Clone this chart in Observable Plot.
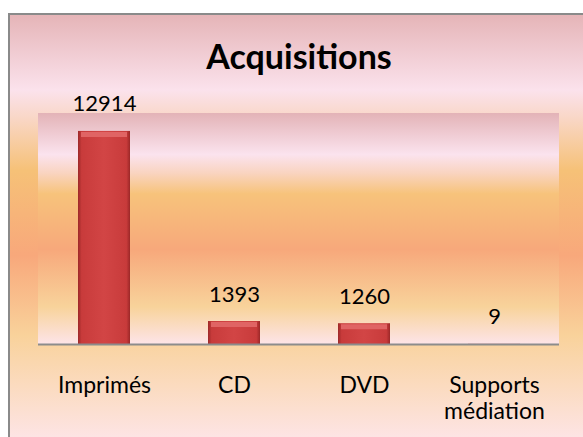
<!DOCTYPE html>
<html>
<head>
<meta charset="utf-8">
<script src="https://cdn.jsdelivr.net/npm/d3@7"></script>
<script src="https://cdn.jsdelivr.net/npm/@observablehq/plot@0.6"></script>
<style>
  html, body { margin: 0; padding: 0; background: #ffffff; }
  #chart svg { display: block; }
</style>
</head>
<body>
<div id="chart"></div>
<script>
const title = "Acquisitions";
const categories = ["Imprimés", "CD", "DVD", "Supports médiation"];
const values = [12914, 1393, 1260, 9];

const data = categories.map((c, i) => ({category: c, value: values[i]}));

function background(index, scales, channels, dimensions) {
  const {width, height, marginLeft, marginRight, marginTop, marginBottom} = dimensions;
  const g = d3.create("svg:g");
  const defs = g.append("defs");
  const outer = defs.append("linearGradient").attr("id", "outerGrad")
    .attr("gradientUnits", "userSpaceOnUse").attr("x1", 0).attr("x2", 0).attr("y1", 14).attr("y2", height);
  [[0, "#e5b4b7"], [0.18, "#fbe2ec"], [0.25, "#f9d6c4"], [0.37, "#f6c177"], [0.57, "#f8a87b"], [0.76, "#f9d29b"], [1, "#fde4e4"]]
    .forEach(([o, c]) => outer.append("stop").attr("offset", o).attr("stop-color", c));
  const top = marginTop, bottom = height - marginBottom;
  const inner = defs.append("linearGradient").attr("id", "innerGrad")
    .attr("gradientUnits", "userSpaceOnUse").attr("x1", 0).attr("x2", 0).attr("y1", top).attr("y2", bottom);
  [[0, "#e3b3b7"], [0.18, "#fbe3ee"], [0.26, "#f9d4c0"], [0.35, "#f7c37b"], [0.59, "#f7a87b"], [0.84, "#f8d39b"], [1, "#fde4e8"]]
    .forEach(([o, c]) => inner.append("stop").attr("offset", o).attr("stop-color", c));
  const bar = defs.append("linearGradient").attr("id", "barGrad")
    .attr("x1", 0).attr("x2", 1).attr("y1", 0).attr("y2", 0);
  [[0, "#9c2828"], [0.07, "#c83b3b"], [0.5, "#d24545"], [0.93, "#c83b3b"], [1, "#9c2828"]]
    .forEach(([o, c]) => bar.append("stop").attr("offset", o).attr("stop-color", c));

  g.append("rect").attr("x", 9).attr("y", 14).attr("width", width).attr("height", height)
    .attr("fill", "url(#outerGrad)").attr("stroke", "#8a8a8a").attr("stroke-width", 2);
  g.append("rect").attr("x", marginLeft).attr("y", top)
    .attr("width", width - marginLeft - marginRight).attr("height", bottom - top)
    .attr("fill", "url(#innerGrad)");
  return g.node();
}

const chart = Plot.plot({
  width: 583,
  height: 437,
  marginLeft: 38,
  marginRight: 24,
  marginTop: 113,
  marginBottom: 93,
  style: {fontFamily: "Lato, 'Open Sans', sans-serif", background: "#ffffff", color: "#000"},
  x: {domain: categories, paddingInner: 0.6, paddingOuter: 0.3},
  y: {domain: [0, 14000], axis: null},
  marks: [
    background,
    Plot.barY(data, {x: "category", y: "value", fill: "url(#barGrad)"}),
    Plot.tickY(data.filter(d => d.value > 100), {x: "category", y: "value", stroke: "#e06464", strokeWidth: 5, dy: 3, insetLeft: 3, insetRight: 3}),
    Plot.ruleY([0], {stroke: "#8c8c8c", strokeWidth: 2}),
    Plot.text(data, {x: "category", y: "value", text: d => String(d.value), dy: -27, fontSize: 22, fill: "#000"}),
    Plot.axisX({tickSize: 0, tickPadding: 30, fontSize: 23, label: null, lineHeight: 1.13, fill: "#000",
      tickFormat: d => d.replace(" ", "\n")}),
    Plot.text([title], {frameAnchor: "top", lineAnchor: "middle", dy: -55, fontSize: 34, fontWeight: "bold", fill: "#000"})
  ]
});
document.getElementById("chart").appendChild(chart);
</script>
</body>
</html>
